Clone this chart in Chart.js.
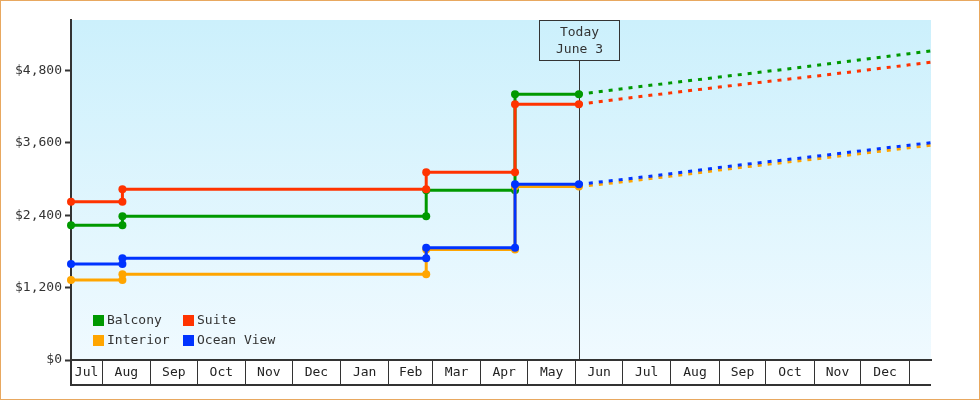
<!DOCTYPE html>
<html>
<head>
<meta charset="utf-8">
<title>Cabin prices</title>
<script src="https://cdn.jsdelivr.net/npm/chart.js@4.4.1/dist/chart.umd.min.js"></script>
<style>
  html, body { margin: 0; padding: 0; background: #fff; }
  canvas { display: block; }
</style>
</head>
<body>
<canvas id="chart" width="980" height="400"></canvas>
<script>
// cabin price history (steps) and projection after today
const seriesNames = ['Balcony', 'Suite', 'Interior', 'Ocean View'];
const seriesColors = ['#009900', '#ff3300', '#ffa500', '#0033ff'];

const changeDates = ['2022-07-12', '2022-08-14', '2023-02-25', '2023-04-23'];
const todayDate = '2023-06-03';

const balconyPrices = [2235, 2385, 2815, 4408];
const suitePrices = [2626, 2832, 3114, 4242];
const interiorPrices = [1327, 1422, 1833, 2878];
const oceanViewPrices = [1593, 1687, 1863, 2915];

const forecastDates = ['2023-07-01', '2023-08-01', '2023-09-01', '2023-10-01',
    '2023-11-01', '2023-12-01', '2024-01-01', '2024-01-15'];
const balconyForecast = [4501, 4597, 4693, 4785, 4882, 4980, 5082, 5126];
const suiteForecast = [4335, 4431, 4527, 4617, 4707, 4798, 4896, 4939];
const interiorForecast = [2955, 3050, 3152, 3243, 3333, 3425, 3520, 3565];
const oceanViewForecast = [2995, 3089, 3194, 3285, 3376, 3469, 3564, 3605];

// axes
const monthLabels = ['Jul', 'Aug', 'Sep', 'Oct', 'Nov', 'Dec', 'Jan', 'Feb', 'Mar',
    'Apr', 'May', 'Jun', 'Jul', 'Aug', 'Sep', 'Oct', 'Nov', 'Dec', 'Jan'];
const xStart = '2022-07-12';
const xEnd = '2024-01-15';
const yTicks = [0, 1200, 2400, 3600, 4800];
const yMax = 5640;

const MONO = '"DejaVu Sans Mono", monospace';
const toDay = (s) => Date.parse(s + 'T00:00:00Z') / 86400000;
const todayDay = toDay(todayDate);
const monthStarts = monthLabels.map((m, i) => Date.UTC(2022, 6 + i, 1) / 86400000);

function buildPoints(prices, forecast) {
    const pts = [];
    prices.forEach((p, i) => {
        const end = i + 1 < changeDates.length ? changeDates[i + 1] : todayDate;
        pts.push({x: toDay(changeDates[i]), y: p});
        pts.push({x: toDay(end), y: p});
    });
    forecastDates.forEach((d, i) => pts.push({x: toDay(d), y: forecast[i]}));
    return pts;
}

const allPrices = [balconyPrices, suitePrices, interiorPrices, oceanViewPrices];
const allForecasts = [balconyForecast, suiteForecast, interiorForecast, oceanViewForecast];
const drawOrder = [3, 1, 2, 0];

const datasets = seriesNames.map((name, i) => ({
    label: name,
    data: buildPoints(allPrices[i], allForecasts[i]),
    borderColor: seriesColors[i],
    backgroundColor: seriesColors[i],
    pointBackgroundColor: seriesColors[i],
    borderWidth: 3,
    pointBorderWidth: 0,
    pointRadius: (c) => (c.parsed && c.parsed.x > todayDay + 0.01 ? 0 : 4),
    segment: {
        borderDash: (c) => (c.p0.parsed.x >= todayDay ? [4, 6] : undefined),
    },
    tension: 0,
    fill: false,
    clip: false,
    order: drawOrder[i],
}));

const decor = {
    id: 'decor',
    beforeDraw(chart) {
        const {ctx, chartArea: a, width, height} = chart;
        ctx.save();
        ctx.fillStyle = '#fff';
        ctx.fillRect(0, 0, width, height);
        const g = ctx.createLinearGradient(0, a.top, 0, a.bottom);
        g.addColorStop(0, '#ccf0fc');
        g.addColorStop(1, '#f0faff');
        ctx.fillStyle = g;
        ctx.fillRect(a.left, a.top, a.right - a.left, a.bottom - a.top);
        ctx.strokeStyle = '#e8a860';
        ctx.lineWidth = 1;
        ctx.strokeRect(0.5, 0.5, width - 1, height - 1);
        ctx.restore();
    },
    beforeDatasetsDraw(chart) {
        // "today" marker
        const {ctx, chartArea: a} = chart;
        const x = Math.round(chart.scales.x.getPixelForValue(todayDay)) + 0.5;
        ctx.save();
        ctx.strokeStyle = '#333';
        ctx.lineWidth = 1;
        ctx.strokeRect(x - 40, a.top + 0.5, 80, 40);
        ctx.beginPath();
        ctx.moveTo(x, a.top + 40.5);
        ctx.lineTo(x, a.bottom);
        ctx.stroke();
        ctx.fillStyle = '#333';
        ctx.font = '13px ' + MONO;
        ctx.textAlign = 'center';
        ctx.textBaseline = 'middle';
        ctx.fillText('Today', x, a.top + 13);
        ctx.fillText('June 3', x, a.top + 30);
        ctx.restore();
    },
    afterDraw(chart) {
        const {ctx, chartArea: a} = chart;
        const xs = chart.scales.x;
        ctx.save();
        // bottom edge of the month band
        ctx.strokeStyle = '#333';
        ctx.lineWidth = 2;
        ctx.beginPath();
        ctx.moveTo(a.left - 1, a.bottom + 25);
        ctx.lineTo(a.right, a.bottom + 25);
        ctx.stroke();
        // month names centred in each month
        ctx.fillStyle = '#222';
        ctx.font = '13px ' + MONO;
        ctx.textAlign = 'center';
        ctx.textBaseline = 'middle';
        monthLabels.forEach((m, i) => {
            const next = Date.UTC(2022, 7 + i, 1) / 86400000;
            const s = xs.getPixelForValue(Math.max(monthStarts[i], xs.min));
            const e = xs.getPixelForValue(Math.min(next, xs.max));
            if (e - s > 28) ctx.fillText(m, (s + e) / 2, a.bottom + 13);
        });
        // legend inside plot, 2 columns
        ctx.textAlign = 'left';
        ctx.fillStyle = '#333';
        chart.data.datasets.forEach((ds, i) => {
            const sx = a.left + 22 + (i % 2) * 90;
            const cy = a.bottom - 40 + Math.floor(i / 2) * 20;
            ctx.fillStyle = ds.borderColor;
            ctx.fillRect(sx, cy - 5, 11, 11);
            ctx.fillStyle = '#333';
            ctx.fillText(ds.label, sx + 14, cy + 1);
        });
        ctx.restore();
    },
};

new Chart(document.getElementById('chart'), {
    type: 'line',
    data: {datasets: datasets},
    options: {
        responsive: false,
        animation: false,
        events: [],
        layout: {padding: {top: 20, right: 49, left: 0, bottom: 0}},
        plugins: {
            legend: {display: false},
            tooltip: {enabled: false},
        },
        scales: {
            x: {
                type: 'linear',
                min: toDay(xStart),
                max: toDay(xEnd),
                afterBuildTicks: (s) => {
                    const ticks = [toDay(xStart)].concat(monthStarts.filter((v) => v > s.min && v < s.max));
                    s.ticks = ticks.map((v) => ({value: v}));
                },
                afterFit: (s) => { s.height = 40; },
                ticks: {display: false},
                grid: {
                    drawOnChartArea: false,
                    drawTicks: true,
                    tickLength: 25,
                    color: '#333',
                    lineWidth: (c) => (c.index === 0 ? 2 : 1),
                },
                border: {display: true, color: '#333', width: 2},
            },
            y: {
                type: 'linear',
                min: 0,
                max: yMax,
                afterBuildTicks: (s) => { s.ticks = yTicks.map((v) => ({value: v})); },
                afterFit: (s) => { s.width = 71; },
                ticks: {
                    callback: (v) => '$' + String(v).replace(/\B(?=(\d{3})+(?!\d))/g, ','),
                    font: {family: MONO, size: 13},
                    color: '#333',
                    padding: 3,
                },
                grid: {drawOnChartArea: false, tickLength: 6, tickWidth: 2, tickColor: '#333'},
                border: {display: true, color: '#333', width: 2},
            },
        },
    },
    plugins: [decor],
});
</script>
</body>
</html>
